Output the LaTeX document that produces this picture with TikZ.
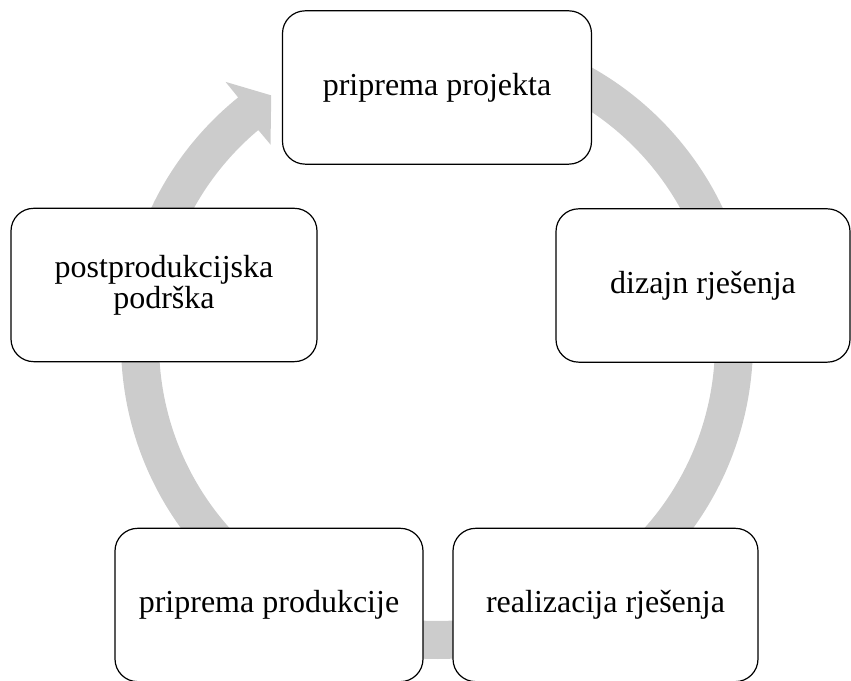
\documentclass[tikz,border=0pt]{standalone}
\usepackage{fontspec}
\setmainfont{Liberation Serif}
\definecolor{ringgray}{RGB}{204,204,204}
\tikzset{
  phase/.style={draw=black, line width=0.9pt, rounded corners=17pt, fill=white,
    inner sep=0pt, align=center, minimum height=115pt,
    font=\fontsize{24}{23.25}\selectfont}
}
\begin{document}
\begin{tikzpicture}[x=0.75pt, y=0.75pt]

        %Page frame
        \useasboundingbox (0,0) rectangle (851,681);

        %Grey cycle arrow behind the boxes
        \begin{scope}[shift={(437,338)}]
          \fill[ringgray] (130:278) -- (130:259) -- (123.8:298) -- (129:336) -- (129:316)
            arc[start angle=129, end angle=450, radius=316] -- (450:278)
            arc[start angle=450, end angle=130, radius=278] -- cycle;
        \end{scope}

        %Phases
        \node[phase, minimum width=231.75pt] (projekt) at (437,593.5) {priprema projekta};
        \node[phase, minimum width=220.5pt] (dizajn) at (703,395.5) {dizajn rješenja};
        \node[phase, minimum width=228.75pt] (realizacija) at (605.5,76) {realizacija rješenja};
        \node[phase, minimum width=231pt] (produkcija) at (269,76) {priprema produkcije};
        \node[phase, minimum width=229.5pt] (podrska) at (164,396) {postprodukcijska\\podrška};

\end{tikzpicture}
\end{document}
